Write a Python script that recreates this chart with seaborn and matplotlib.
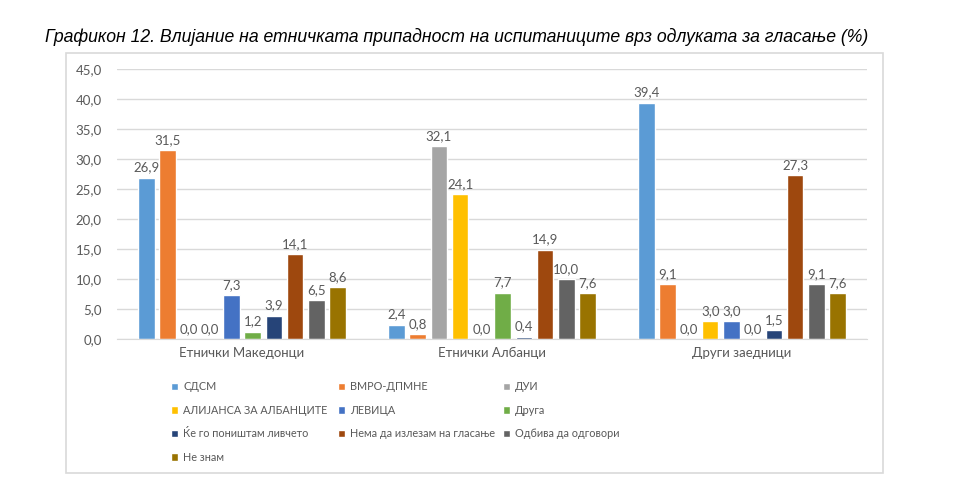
import pandas as pd
import matplotlib.pyplot as plt
import seaborn as sns
from matplotlib.patches import Rectangle

# groups on the x axis
groups = ["Етнички Македонци", "Етнички Албанци", "Други заедници"]

# series (legend order)
parties = ["СДСМ", "ВМРО-ДПМНЕ", "ДУИ", "АЛИЈАНСА ЗА АЛБАНЦИТЕ", "ЛЕВИЦА", "Друга",
           "Ќе го поништам ливчето", "Нема да излезам на гласање",
           "Одбива да одговори", "Не знам"]

sdsm = [26.9, 2.4, 39.4]
vmro = [31.5, 0.8, 9.1]
dui = [0.0, 32.1, 0.0]
alijansa = [0.0, 24.1, 3.0]
levica = [7.3, 0.0, 3.0]
druga = [1.2, 7.7, 0.0]
ponistam = [3.9, 0.4, 1.5]
nema = [14.1, 14.9, 27.3]
odbiva = [6.5, 10.0, 9.1]
ne_znam = [8.6, 7.6, 7.6]

colors = ["#5B9BD5", "#ED7D31", "#A5A5A5", "#FFC000", "#4472C4", "#70AD47",
          "#264478", "#9E480E", "#636363", "#997300"]

yticks = [0, 5, 10, 15, 20, 25, 30, 35, 40, 45]

series = [sdsm, vmro, dui, alijansa, levica, druga, ponistam, nema, odbiva, ne_znam]
rows = []
for party, vals in zip(parties, series):
    for g, v in zip(groups, vals):
        rows.append({"group": g, "party": party, "value": v})
df = pd.DataFrame(rows)

sns.set_style("white")
plt.rcParams['font.family'] = ['Lato', 'DejaVu Sans']

fig = plt.figure(figsize=(9.6, 5.03), dpi=100)

# chart frame
fig.patches.append(Rectangle((66 / 960, 30 / 503), 817 / 960, 420 / 503,
                             transform=fig.transFigure, fill=False,
                             edgecolor="#D9D9D9", linewidth=1.2))

ax = fig.add_axes([117 / 960, 164 / 503, 750 / 960, 270 / 503])

sns.barplot(data=df, x="group", y="value", hue="party", hue_order=parties,
            order=groups, palette=colors, width=0.85, gap=0.22,
            saturation=1, ax=ax, legend=True)

ax.set_ylim(0, 45)
ax.set_xlim(-0.5, 2.5)
ax.set_yticks(yticks)
ax.set_yticklabels([f"{t:.1f}".replace(".", ",") for t in yticks])
ax.yaxis.grid(True, color="#D9D9D9", linewidth=1)
ax.set_axisbelow(True)
for s in ["top", "right", "left"]:
    ax.spines[s].set_visible(False)
ax.spines["bottom"].set_color("#D9D9D9")
ax.tick_params(axis="both", length=0, colors="#595959", labelsize=9.5)
ax.tick_params(axis="y", pad=11)
ax.tick_params(axis="x", pad=6)
ax.set_xlabel("")
ax.set_ylabel("")

for cont in ax.containers:
    ax.bar_label(cont, fmt=lambda v: f"{v:.1f}".replace(".", ","),
                 padding=3, fontsize=9.5, color="#595959")

# legend: three equal-width columns, filled row by row
handles, labels = ax.get_legend_handles_labels()
ax.get_legend().remove()
col_x = [167, 334, 499]
for c, x0 in enumerate(col_x):
    idx = list(range(c, len(handles), 3))
    fig.legend([handles[i] for i in idx], [labels[i] for i in idx],
               ncol=1, loc="upper left", bbox_to_anchor=(x0 / 960, 1 - 377 / 503),
               frameon=False, fontsize=7.8, borderaxespad=0,
               handlelength=0.65, handleheight=0.65, handletextpad=0.45,
               labelspacing=1.15, labelcolor="#595959")

fig.text(45 / 960, 1 - 37 / 503,
         "Графикон 12. Влијание на етничката припадност на испитаниците врз одлуката за гласање (%)",
         fontsize=12.7, style="italic", family=["Liberation Sans", "DejaVu Sans"],
         va="center", ha="left", color="black")

fig.savefig("out.png", dpi=100, facecolor="white")
